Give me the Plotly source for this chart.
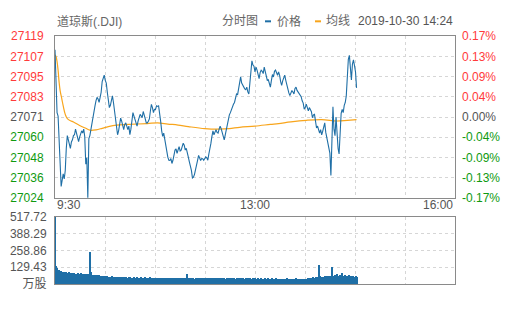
import plotly.graph_objects as go

# ---------------- data ----------------
price_values = [
    27111.0, 27091.0, 27074.0, 27072.0, 27058.0, 27040.0, 27030.6, 27034.3, 27038.0, 27035.0,   # 0-9
    27040.0, 27053.0, 27060.5, 27058.0, 27055.9, 27053.0, 27056.8, 27058.0, 27060.5, 27061.0,   # 10-19
    27064.3, 27062.0, 27060.5, 27057.0, 27059.6, 27061.0, 27063.3, 27062.0, 27064.3, 27060.0,   # 20-29
    27043.7, 27047.4, 27023.9, 27058.7, 27060.5, 27064.0, 27068.0, 27071.0, 27075.5, 27078.0,   # 30-39
    27081.1, 27083.0, 27082.0, 27080.0, 27083.0, 27086.0, 27092.3, 27094.0, 27096.1, 27093.0,   # 40-49
    27091.4, 27086.0, 27080.2, 27077.0, 27078.3, 27081.0, 27083.9, 27080.0, 27074.6, 27069.0,   # 50-59
    27065.2, 27061.0, 27063.3, 27067.0, 27070.8, 27069.0, 27066.1, 27064.0, 27067.1, 27068.0,   # 60-69
    27066.1, 27064.0, 27066.1, 27061.0, 27064.3, 27070.0, 27074.0, 27072.0, 27069.9, 27067.0,   # 70-79
    27066.1, 27069.0, 27070.8, 27073.0, 27072.1, 27071.0, 27074.7, 27073.0, 27070.3, 27068.0,   # 80-89
    27068.0, 27069.0, 27070.3, 27075.0, 27078.9, 27077.0, 27074.0, 27076.0, 27075.9, 27078.0,   # 90-99
    27077.7, 27078.0, 27074.6, 27069.0, 27063.3, 27060.0, 27062.0, 27058.0, 27055.3, 27050.0,   # 100-109
    27047.8, 27046.0, 27045.9, 27047.0, 27044.1, 27046.0, 27049.3, 27052.0, 27052.7, 27050.0,   # 110-119
    27052.1, 27054.0, 27051.5, 27052.0, 27054.0, 27056.0, 27054.9, 27052.0, 27053.0, 27051.0,   # 120-129
    27047.8, 27045.0, 27042.8, 27040.0, 27035.6, 27036.0, 27037.7, 27040.0, 27043.3, 27046.0,   # 130-139
    27048.9, 27047.0, 27045.9, 27047.0, 27046.9, 27046.0, 27047.4, 27048.0, 27047.4, 27046.0,   # 140-149
    27049.7, 27052.0, 27055.9, 27060.0, 27063.3, 27061.0, 27063.3, 27064.0, 27062.4, 27062.0,   # 150-159
    27064.3, 27066.0, 27064.6, 27062.0, 27060.2, 27058.0, 27060.9, 27064.0, 27067.1, 27070.0,   # 160-169
    27072.7, 27074.0, 27075.9, 27077.0, 27078.9, 27080.0, 27082.6, 27085.0, 27084.5, 27088.0,   # 170-179
    27092.0, 27095.0, 27091.4, 27090.0, 27088.6, 27088.0, 27087.5, 27089.0, 27086.2, 27085.0,   # 180-189
    27091.4, 27097.0, 27104.5, 27102.0, 27101.3, 27098.0, 27100.8, 27099.0, 27095.7, 27094.0,   # 190-199
    27097.6, 27099.0, 27098.3, 27097.0, 27100.8, 27098.0, 27095.2, 27093.0, 27093.3, 27091.0,   # 200-209
    27089.0, 27093.0, 27096.4, 27095.0, 27098.3, 27099.0, 27097.6, 27096.0, 27098.0, 27096.0,   # 210-219
    27092.3, 27090.0, 27092.7, 27094.0, 27096.1, 27093.0, 27090.1, 27088.0, 27085.6, 27084.0,   # 220-229
    27085.2, 27087.0, 27086.2, 27085.0, 27088.2, 27089.0, 27087.1, 27086.0, 27085.2, 27084.0,   # 230-239
    27083.4, 27081.0, 27079.6, 27076.0, 27077.0, 27079.0, 27077.4, 27075.0, 27077.0, 27076.0,   # 240-249
    27074.6, 27071.0, 27072.7, 27073.0, 27068.4, 27065.0, 27066.1, 27064.0, 27062.0, 27064.0,   # 250-259
    27060.9, 27063.0, 27066.5, 27068.0, 27062.4, 27059.0, 27057.2, 27054.0, 27050.2, 27037.1,   # 260-269
    27058.7, 27077.4, 27064.3, 27060.5, 27071.4, 27060.5, 27053.0, 27049.7, 27064.3, 27073.6,   # 270-279
    27075.9, 27074.0, 27078.3, 27080.0, 27083.9, 27099.8, 27105.4, 27107.7, 27098.0, 27093.3,   # 280-289
    27102.6, 27105.0, 27101.7, 27098.0, 27088.6]                                                # 290-294
price_minutes = list(range(len(price_values)))

avg_minutes = [0, 1, 2, 3, 4, 5, 6, 7, 8, 10, 12, 15, 18, 24, 30, 34, 40, 46, 52, 60, 72, 90, 100, 110,
               120, 130, 146, 160, 170, 180, 195, 210, 218, 230, 245, 260, 275, 285, 294]
avg_values = [27108.0, 27107.0, 27104.0, 27099.0, 27092.0, 27087.0, 27084.0, 27081.0, 27078.0, 27073.0,
              27070.5, 27069.2, 27068.5, 27066.5, 27064.8, 27063.7, 27063.9, 27064.8, 27065.8, 27066.7,
              27067.1, 27067.6, 27068.0, 27067.3, 27066.7, 27065.8, 27064.6, 27064.3, 27064.6, 27065.4,
              27066.1, 27067.1, 27067.6, 27068.6, 27069.5, 27069.9, 27069.1, 27069.5, 27069.9]

volume_values = [
    517.7, 135, 122, 110, 104, 98, 96, 92, 95, 90, 88, 92, 86, 84, 88, 82, 85, 80, 83, 86,
    80, 78, 84, 79, 76, 82, 77, 74, 80, 78, 72, 76, 70, 74, 246, 88, 70, 68, 66, 70,
    64, 66, 62, 65, 60, 63, 58, 62, 60, 57, 55, 58, 54, 56, 52, 55, 57, 53, 51, 54,
    50, 53, 48, 52, 55, 50, 47, 51, 49, 52, 48, 46, 50, 53, 47, 49, 45, 51, 48, 46,
    50, 47, 44, 49, 52, 46, 48, 45, 50, 47, 43, 48, 46, 51, 44, 47, 49, 45, 42, 47,
    45, 48, 43, 46, 44, 49, 42, 45, 47, 43, 46, 41, 45, 48, 44, 42, 46, 43, 47, 44,
    42, 45, 43, 47, 41, 44, 46, 42, 45, 74, 43, 41, 45, 42, 44, 47, 40, 43, 45, 42,
    44, 41, 46, 43, 40, 44, 42, 45, 41, 43, 46, 40, 42, 44, 41, 45, 43, 40, 44, 42,
    41, 43, 46, 40, 42, 44, 41, 39, 43, 45, 42, 40, 44, 41, 43, 46, 40, 42, 39, 44,
    42, 40, 43, 45, 39, 41, 44, 40, 42, 38, 43, 41, 39, 44, 40, 42, 38, 41, 43, 40,
    39, 42, 40, 37, 41, 43, 39, 40, 42, 38, 41, 39, 43, 40, 38, 42, 39, 41, 37, 40,
    38, 41, 39, 36, 40, 38, 42, 37, 39, 41, 36, 38, 40, 37, 39, 42, 38, 36, 40, 37,
    39, 37, 41, 38, 36, 40, 38, 42, 46, 44, 48, 45, 50, 47, 52, 49, 55, 148, 58, 52,
    56, 50, 54, 60, 57, 52, 62, 58, 55, 64, 133, 60, 57, 66, 59, 74, 62, 58, 65, 60,
    81, 63, 58, 66, 60, 57, 64, 70, 61, 58, 56, 62, 55, 59, 54]
volume_minutes = list(range(len(volume_values)))

price_tick_values = [27023.82, 27035.72, 27047.62, 27059.52, 27071.42, 27083.32, 27095.22, 27107.12, 27119.02]
price_tick_labels = ["27024", "27036", "27048", "27060", "27071", "27083", "27095", "27107", "27119"]
pct_tick_labels = ["-0.17%", "-0.13%", "-0.09%", "-0.04%", "0.00%", "0.04%", "0.09%", "0.13%", "0.17%"]
tick_signs = [-1, -1, -1, -1, 0, 1, 1, 1, 1]
vol_tick_values = [0, 129.43, 258.86, 388.29, 517.72]
vol_tick_labels = ["万股", "129.43", "258.86", "388.29", "517.72"]
grid_minutes = [0, 48.75, 97.5, 146.25, 195, 243.75, 292.5, 341.25, 390]
time_labels = ["9:30", "13:00", "16:00"]
title_text = "道琼斯(.DJI)"
header_date = "2019-10-30 14:24"

# ---------------- style ----------------
W, H = 505, 310
BLUE = "#1f6fa6"
ORANGE = "#f8a51c"
RED = "#ff3b3b"
GREEN = "#0f9a0f"
GRAY = "#555555"
GRID = "#d6d6d6"
BORDER = "#8a8a8a"
FONT = "Arial, 'Liberation Sans', 'Noto Sans CJK SC', sans-serif"


def fx(p):
    return p / W


def fy(p):
    return 1 - p / H


def colored(text, sign):
    c = RED if sign > 0 else (GREEN if sign < 0 else GRAY)
    return f"<span style='color:{c}'>{text}</span>"


fig = go.Figure()
fig.add_trace(go.Bar(x=volume_minutes, y=volume_values, width=1.0,
                     marker=dict(color=BLUE, line=dict(width=0)),
                     xaxis="x2", yaxis="y3", hoverinfo="skip"))
fig.add_trace(go.Scatter(x=avg_minutes, y=avg_values, mode="lines",
                         line=dict(color=ORANGE, width=1.2, shape="spline"),
                         xaxis="x", yaxis="y"))
fig.add_trace(go.Scatter(x=price_minutes, y=price_values, mode="lines",
                         line=dict(color=BLUE, width=1.1),
                         xaxis="x", yaxis="y"))
fig.add_trace(go.Scatter(x=[0], y=[price_tick_values[4]], mode="markers",
                         marker=dict(opacity=0), xaxis="x", yaxis="y2", hoverinfo="skip"))

main_dom = [fy(200), fy(30.5)]
vol_dom = [fy(290), fy(220)]
x_dom = [fx(55), fx(455)]
grid_common = dict(showgrid=True, gridcolor=GRID, griddash="3px,3px", gridwidth=1,
                   zeroline=False, ticks="")

fig.update_layout(
    width=W, height=H,
    margin=dict(l=0, r=0, t=0, b=0),
    paper_bgcolor="white", plot_bgcolor="white",
    showlegend=False, bargap=0,
    font=dict(family=FONT, size=12, color=GRAY),
    xaxis=dict(domain=x_dom, range=[0, 390], tickvals=grid_minutes, showticklabels=False,
               showline=True, mirror=True, linecolor=BORDER, linewidth=1, anchor="y", **grid_common),
    yaxis=dict(domain=main_dom, range=[price_tick_values[0], price_tick_values[-1]],
               tickvals=price_tick_values,
               ticktext=[colored(t, s) for t, s in zip(price_tick_labels, tick_signs)],
               showline=True, mirror=True, linecolor=BORDER, linewidth=1,
               ticklabelstandoff=8, anchor="x", **grid_common),
    yaxis2=dict(overlaying="y", side="right", anchor="x",
                range=[price_tick_values[0], price_tick_values[-1]],
                tickvals=price_tick_values,
                ticktext=[colored(t, s) for t, s in zip(pct_tick_labels, tick_signs)],
                showgrid=False, zeroline=False, showline=False, ticks="",
                ticklabelstandoff=6),
    xaxis2=dict(domain=x_dom, range=[0, 390], tickvals=grid_minutes, showticklabels=False,
                showline=True, mirror=True, linecolor=BORDER, linewidth=1, anchor="y3", **grid_common),
    yaxis3=dict(domain=vol_dom, range=[0, 517.72], tickvals=vol_tick_values, ticktext=vol_tick_labels,
                showline=True, mirror=True, linecolor=BORDER, linewidth=1,
                ticklabelstandoff=5, anchor="x2", **grid_common),
)

ann = []
ann.append(dict(text=title_text, x=fx(55), y=fy(15), xanchor="left", yanchor="middle",
                font=dict(size=12, color="#666666")))
ann.append(dict(text="分时图", x=fx(220), y=fy(15), xanchor="left", yanchor="middle",
                font=dict(size=12, color="#666666")))
ann.append(dict(text="价格", x=fx(275), y=fy(15), xanchor="left", yanchor="middle",
                font=dict(size=12, color="#666666")))
ann.append(dict(text="均线", x=fx(324), y=fy(15), xanchor="left", yanchor="middle",
                font=dict(size=12, color="#666666")))
ann.append(dict(text=header_date, x=fx(455), y=fy(15), xanchor="right", yanchor="middle",
                font=dict(size=12, color="#555555")))
ann.append(dict(text=time_labels[0], x=fx(55), y=fy(207), xanchor="left", yanchor="middle"))
ann.append(dict(text=time_labels[1], x=fx(255), y=fy(207), xanchor="center", yanchor="middle"))
ann.append(dict(text=time_labels[2], x=fx(455), y=fy(207), xanchor="right", yanchor="middle"))
for a in ann:
    a.update(xref="paper", yref="paper", showarrow=False)
fig.update_layout(annotations=ann)

fig.update_layout(shapes=[
    dict(type="line", xref="paper", yref="paper", x0=fx(265), x1=fx(271), y0=fy(15), y1=fy(15),
         line=dict(color=BLUE, width=2)),
    dict(type="line", xref="paper", yref="paper", x0=fx(315), x1=fx(321), y0=fy(15), y1=fy(15),
         line=dict(color=ORANGE, width=2)),
])

fig.write_html("out.html")
